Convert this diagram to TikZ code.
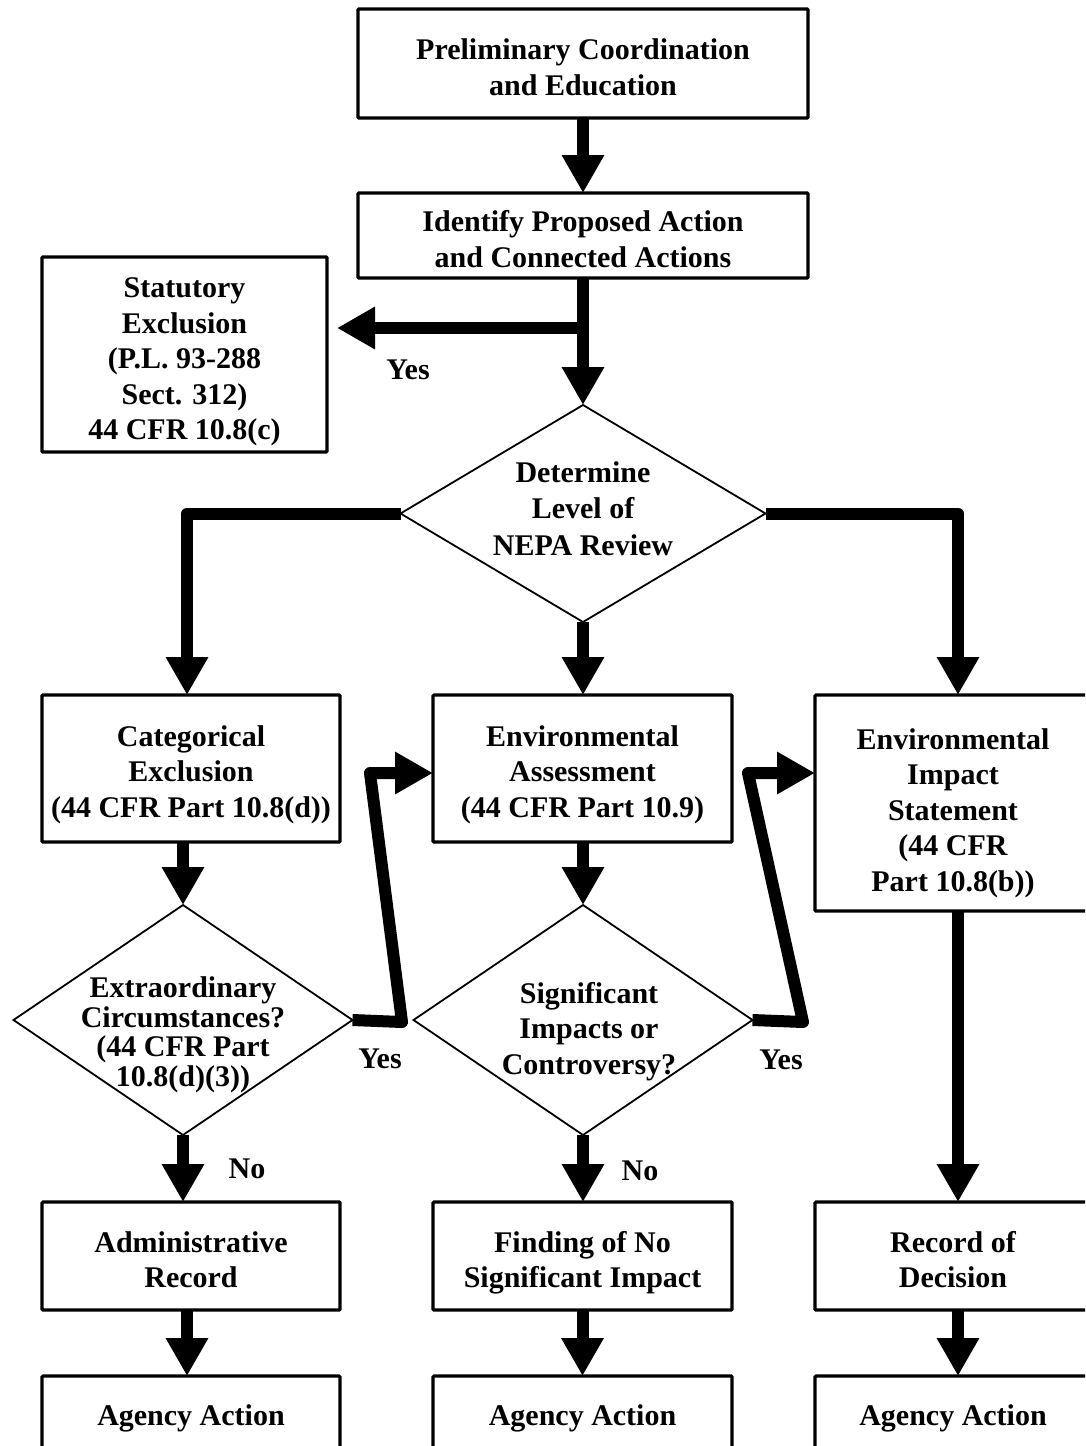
\documentclass[tikz,border=0pt]{standalone}
\usepackage{fontspec}
\setmainfont{Liberation Serif}
\usetikzlibrary{arrows.meta,shapes.geometric,calc}
\newcommand{\boxtext}[2][4pt]{\raisebox{-#1}[\height][\depth]{\begin{tabular}{@{}c@{}}#2\end{tabular}}}
\begin{document}
\begin{tikzpicture}[x=1pt,y=-1pt,
  box/.style={draw, line width=3.2pt, rectangle, rounded corners=1pt, inner sep=0pt, outer sep=0pt, align=center,
    font=\bfseries\fontsize{30}{35.5}\selectfont},
  dia/.style={draw, line width=1.8pt, diamond, inner sep=0pt, outer sep=0pt},
  dtext/.style={align=center, inner sep=0pt, font=\bfseries\fontsize{30}{35.5}\selectfont},
  arr/.style={line width=12pt, -{Triangle[length=38pt,width=40pt]}, line join=round},
  lbl/.style={inner sep=0pt, font=\bfseries\fontsize{30}{36}\selectfont}
]
\useasboundingbox (0,0) rectangle (1085,1446);
\fill[white] (0,0) rectangle (1085,1446);
\clip (0,0) rectangle (1085,1446);

% top boxes
\node[box, minimum width=450pt, minimum height=109pt] (b1) at (583,63.5) {\boxtext[7pt]{Preliminary Coordination\\and Education}};
\node[box, minimum width=450pt, minimum height=85pt] (b2) at (583,235.5) {\boxtext[7pt]{Identify Proposed Action\\and Connected Actions}};
\node[box, minimum width=285pt, minimum height=195pt] (stat) at (184.5,354.5) {\boxtext[7pt]{Statutory\\Exclusion\\(P.L. 93-288\\Sect. 312)\\44 CFR 10.8(c)}};

% decision 1
\node[dia, minimum width=365pt, minimum height=217pt] (d1) at (583,513.5) {};
\node[dtext, font=\bfseries\fontsize{30}{36.5}\selectfont] (d1t) at (583,508.5) {Determine\\Level of\\NEPA Review};

% level boxes
\node[box, minimum width=298pt, minimum height=147pt] (cat) at (191,768.5) {\boxtext[6pt]{Categorical\\Exclusion\\(44 CFR Part 10.8(d))}};
\node[box, minimum width=299pt, minimum height=147pt] (ea) at (582.5,768.5) {\boxtext[6pt]{Environmental\\Assessment\\(44 CFR Part 10.9)}};
\node[box, minimum width=276pt, minimum height=216pt] (eis) at (953,803) {\boxtext[10pt]{Environmental\\Impact\\Statement\\(44 CFR\\Part 10.8(b))}};

% decisions 2 and 3
\node[dia, minimum width=339pt, minimum height=230pt] (d2) at (183,1020) {};
\node[dtext, font=\bfseries\fontsize{30}{29.5}\selectfont] (d2t) at (183,1035) {Extraordinary\\Circumstances?\\(44 CFR Part\\10.8(d)(3))};
\node[dia, minimum width=339pt, minimum height=230pt] (d3) at (583,1020) {};
\node[dtext] (d3t) at (589,1031.5) {Significant\\Impacts or\\Controversy?};

% outcome boxes
\node[box, minimum width=298pt, minimum height=108pt] (adm) at (191,1256) {\boxtext[7pt]{Administrative\\Record}};
\node[box, minimum width=299pt, minimum height=108pt] (fon) at (582.5,1256) {\boxtext[7pt]{Finding of No\\Significant Impact}};
\node[box, minimum width=276pt, minimum height=108pt] (rod) at (953,1256) {\boxtext[7pt]{Record of\\Decision}};

\node[box, minimum width=298pt, minimum height=80pt] (ag1) at (191,1416) {\boxtext[2pt]{Agency Action}};
\node[box, minimum width=299pt, minimum height=80pt] (ag2) at (582.5,1416) {\boxtext[2pt]{Agency Action}};
\node[box, minimum width=276pt, minimum height=80pt] (ag3) at (953,1416) {\boxtext[2pt]{Agency Action}};

% coordinates
\coordinate (junc) at (583,328);
\coordinate (statend) at (337,328);
\coordinate (y1a) at (402,1022);
\coordinate (y1b) at (370,773);
\coordinate (y2a) at (803,1022);
\coordinate (y2b) at (748,773);

% connectors
\draw[arr] (b1.south) -- (b2.north);
\draw[arr] (b2.south) -- (d1.north);
\draw[arr] (junc) -- (statend);
\draw[arr] (d1.west) -| ([xshift=-4pt]cat.north);
\draw[arr] (d1.south) -- (d1.south |- ea.north);
\draw[arr] (d1.east) -| ([xshift=5pt]eis.north);
\draw[arr] (d2.north |- cat.south) -- (d2.north);
\draw[arr] (d3.north |- ea.south) -- (d3.north);
\draw[arr] (d2.east) -- (y1a) -- (y1b) -- (ea.west |- y1b);
\draw[arr] (d3.east) -- (y2a) -- (y2b) -- (eis.west |- y2b);
\draw[arr] (d2.south) -- (d2.south |- adm.north);
\draw[arr] (d3.south) -- (d3.south |- fon.north);
\draw[arr] ([xshift=5pt]eis.south) -- ([xshift=5pt]rod.north);
\draw[arr] ([xshift=-4pt]adm.south) -- ([xshift=-4pt]ag1.north);
\draw[arr] (fon.south) -- (ag2.north);
\draw[arr] ([xshift=5pt]rod.south) -- ([xshift=5pt]ag3.north);

% labels
\node[lbl] (yes0) at (408,370) {Yes};
\node[lbl] (yes1) at (380,1059) {Yes};
\node[lbl] (yes2) at (781,1060) {Yes};
\node[lbl] (no1) at (247,1169) {No};
\node[lbl] (no2) at (640,1171) {No};
\end{tikzpicture}
\end{document}
